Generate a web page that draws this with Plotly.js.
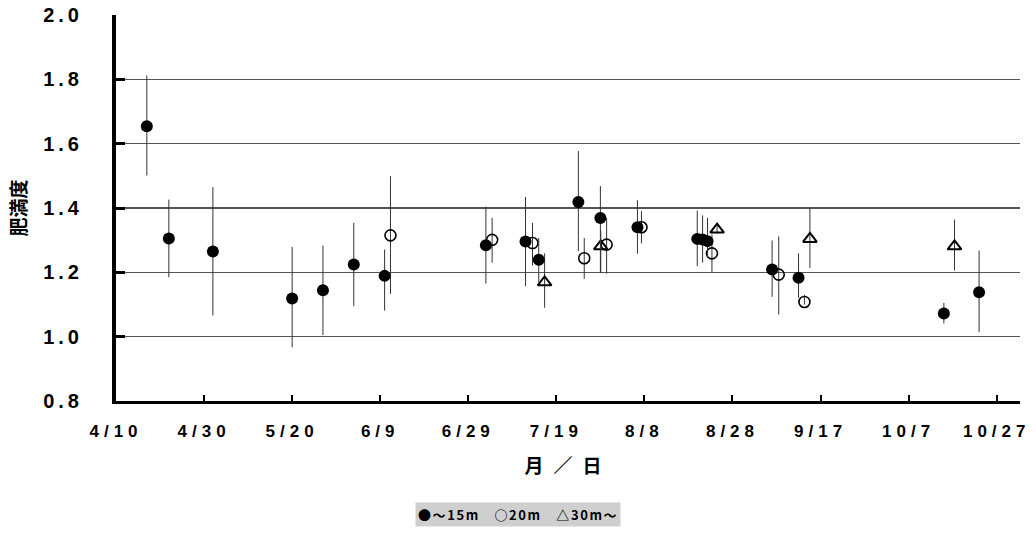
<!DOCTYPE html>
<html>
<head>
<meta charset="utf-8">
<script src="https://cdn.plot.ly/plotly-3.0.1.min.js"></script>
<style>
html,body{margin:0;padding:0;background:#fff;}
#chart{width:1036px;height:539px;}
.xtick text{letter-spacing:5px;}
.ytick text{letter-spacing:4px;}
.g-xtitle text{letter-spacing:10px;}
.annotation-text{letter-spacing:1.6px;}
</style>
</head>
<body>
<div id="chart"></div>
<script>
// ~15m (filled circles)
const datesA = ['2001-04-17','2001-04-22','2001-05-02','2001-05-20','2001-05-27','2001-06-03','2001-06-10',
  '2001-07-03','2001-07-12','2001-07-15','2001-07-24','2001-07-29','2001-08-06 10:00',
  '2001-08-20','2001-08-21 05:00','2001-08-22 08:00','2001-09-06','2001-09-12','2001-10-15','2001-10-23'];
const meanA = [1.654,1.305,1.265,1.119,1.144,1.224,1.189,1.284,1.296,1.239,1.419,1.369,1.340,1.304,1.302,1.297,1.209,1.183,1.072,1.138];
const hiA   = [1.812,1.426,1.465,1.279,1.283,1.354,1.271,1.404,1.434,1.307,1.577,1.468,1.424,1.392,1.377,1.369,1.299,1.259,1.105,1.268];
const loA   = [1.501,1.185,1.066,0.967,1.005,1.095,1.081,1.165,1.157,1.169,1.266,1.198,1.258,1.219,1.230,1.245,1.124,1.120,1.041,1.014];

// 20m (open circles)
const datesB = ['2001-06-11 08:00','2001-07-04 10:00','2001-07-13 14:00','2001-07-25 08:00','2001-07-30 10:00',
  '2001-08-07 08:00','2001-08-23 08:00','2001-09-07 12:00','2001-09-13 08:00'];
const meanB = [1.315,1.301,1.291,1.244,1.286,1.340,1.259,1.193,1.108];
const hiB   = [1.499,1.369,1.354,1.307,1.369,1.390,1.318,1.312,1.130];
const loB   = [1.133,1.230,1.221,1.180,1.196,1.290,1.198,1.069,1.100];

// 30m~ (open triangles)
const datesC = ['2001-07-16 08:00','2001-07-29 02:00','2001-08-24 12:00','2001-09-14 14:00','2001-10-17 10:00'];
const meanC = [1.169,1.281,1.333,1.304,1.281];
const hiC   = [1.259,1.330,1.350,1.400,1.364];
const loC   = [1.090,1.200,1.320,1.214,1.206];

const tickDates  = ['2001-04-10','2001-04-30','2001-05-20','2001-06-09','2001-06-29','2001-07-19','2001-08-08','2001-08-28','2001-09-17','2001-10-07','2001-10-27'];
const tickLabels = ['4/10','4/30','5/20','6/9','6/29','7/19','8/8','8/28','9/17','10/7','10/27'];
const yTicks = [0.8,1.0,1.2,1.4,1.6,1.8,2.0];

const legendText = '●～15m　○20m　△30m～';

function errs(mean, hi, lo){
  return {
    type:'data', symmetric:false,
    array: mean.map((m,i)=>hi[i]-m),
    arrayminus: mean.map((m,i)=>m-lo[i]),
    color:'#333', thickness:1, width:0
  };
}

const traces = [
  {x:datesB, y:meanB, mode:'markers', type:'scatter', name:'20m',
   error_y: errs(meanB,hiB,loB),
   marker:{symbol:'circle-open', size:11, color:'#000', line:{width:1.6, color:'#000'}}},
  {x:datesC, y:meanC, mode:'markers', type:'scatter', name:'30m～',
   error_y: errs(meanC,hiC,loC),
   marker:{symbol:'triangle-up-open', size:12, color:'#000', line:{width:2, color:'#000'}}},
  {x:datesA, y:meanA, mode:'markers', type:'scatter', name:'～15m',
   error_y: errs(meanA,hiA,loA),
   marker:{symbol:'circle', size:12, color:'#000'}}
];

const layout = {
  width:1036, height:539,
  margin:{l:116, r:16, t:15, b:137.5},
  paper_bgcolor:'#fff', plot_bgcolor:'#fff',
  showlegend:false,
  font:{family:'Liberation Sans, Arial, sans-serif', color:'#000'},
  xaxis:{
    type:'date',
    range:['2001-04-10','2001-11-01 07:00'],
    tickmode:'array', tickvals:tickDates, ticktext:tickLabels,
    ticks:'inside', ticklen:6, tickwidth:2, tickcolor:'#000',
    showline:true, linewidth:3, linecolor:'#000',
    showgrid:false, zeroline:false,
    ticklabelstandoff:13,
    tickfont:{size:17, family:'Liberation Sans, Arial, sans-serif', weight:'bold'},
    title:{text:'月／日', standoff:20, font:{size:19, family:'Noto Sans CJK JP, sans-serif', weight:'bold'}}
  },
  yaxis:{
    range:[0.8,2.0],
    tickmode:'array', tickvals:yTicks, ticktext:yTicks.map(v=>v.toFixed(1)),
    ticks:'inside', ticklen:9, tickwidth:3, tickcolor:'#000',
    showline:true, linewidth:4, linecolor:'#000',
    showgrid:true, gridcolor:'#555', gridwidth:1.2, zeroline:false,
    ticklabelstandoff:25,
    tickfont:{size:20, family:'Liberation Sans, Arial, sans-serif', weight:'bold'},
    title:{text:'肥満度', standoff:13, font:{size:19, family:'Noto Sans CJK JP, sans-serif', weight:'bold'}}
  },
  annotations:[{
    xref:'paper', yref:'paper', x:(518-116)/904, y:-(515-401.5)/386,
    xanchor:'center', yanchor:'middle', showarrow:false,
    text:legendText, bgcolor:'#cfcfcf', borderpad:2,
    font:{size:13, family:'Noto Sans CJK JP, sans-serif', weight:'bold', color:'#000'}
  }]
};

Plotly.newPlot('chart', traces, layout, {displayModeBar:false, staticPlot:true});
</script>
</body>
</html>
